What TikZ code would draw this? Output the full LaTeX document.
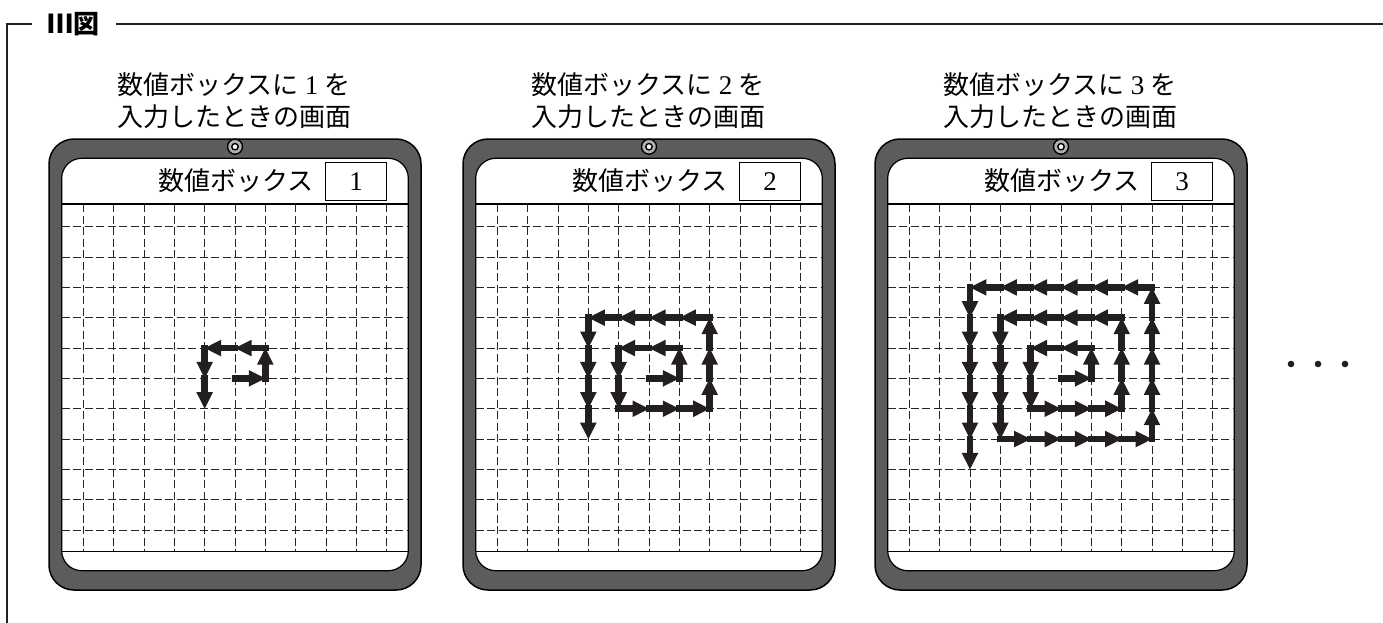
\documentclass[tikz,border=0pt]{standalone}
\usepackage{fontspec}
\newfontfamily\jp{Noto Sans CJK JP}
\newfontfamily\digitfont{Liberation Serif}
\definecolor{tabgray}{RGB}{92,92,94}
\definecolor{ink}{RGB}{35,31,32}
\tikzset{
  frameline/.style={line width=1.5pt, draw=ink},
  tabbody/.style={fill=tabgray, draw=black, line width=1.5pt, rounded corners=25pt},
  screen/.style={fill=white, draw=black, line width=1.2pt, rounded corners=20pt},
  gridline/.style={draw=black!85, line width=0.9pt, dash pattern=on 8pt off 3.5pt},
  solidline/.style={draw=black, line width=1.2pt},
  arrowshaft/.style={draw=ink, line width=6.5pt, line cap=rect},
  arrowhead/.style={fill=ink},
  heading/.style={font=\jp\fontsize{26}{32}\selectfont, inner sep=0pt},
  boxlabel/.style={font=\jp\fontsize{26}{30}\selectfont, inner sep=0pt, anchor=east},
  digitbox/.style={draw=black, line width=1.3pt},
  digittext/.style={font=\digitfont\fontsize{27}{30}\selectfont, inner sep=0pt},
  cameraring/.style={fill=black!30, draw=black, line width=1.4pt},
  cameradot/.style={fill=white, draw=black, line width=1.4pt},
}
\newcommand\drawspiral[2]{%
  \xdef\spx{5}\xdef\spy{5}%
  \foreach \j in {1,...,#2}{%
    \pgfmathtruncatemacro\seglen{ceil(\j/2)}%
    \pgfmathtruncatemacro\segdir{mod(\j-1,4)}%
    \pgfmathtruncatemacro\segdx{(\segdir==0)-(\segdir==2)}%
    \pgfmathtruncatemacro\segdy{(\segdir==3)-(\segdir==1)}%
    \foreach \s in {1,...,\seglen}{%
      \pgfmathtruncatemacro\nx{\spx+\segdx}%
      \pgfmathtruncatemacro\ny{\spy+\segdy}%
      \pgfmathsetmacro\sxx{#1+83.3+30.34*\spx}%
      \pgfmathsetmacro\syy{226.7+30.34*\spy}%
      \pgfmathsetmacro\exx{#1+83.3+30.34*\nx}%
      \pgfmathsetmacro\eyy{226.7+30.34*\ny}%
      \pgfmathsetmacro\bxx{\exx-16.5*\segdx}%
      \pgfmathsetmacro\byy{\eyy-16.5*\segdy}%
      \draw[arrowshaft] (\sxx,\syy) -- ({\exx-14*\segdx},{\eyy-14*\segdy});%
      \fill[arrowhead] (\exx,\eyy) -- ({\bxx+8.3*\segdy},{\byy+8.3*\segdx}) -- ({\bxx-8.3*\segdy},{\byy-8.3*\segdx}) -- cycle;%
      \xdef\spx{\nx}\xdef\spy{\ny}%
    }%
  }%
}
\newcommand\tablet[3]{%
  \draw[tabbody] ({#1+49},139) rectangle ({#1+421},590);
  \draw[screen] ({#1+61.7},158.3) rectangle ({#1+408.3},570.7);
  \foreach \k in {0,...,10}{\draw[gridline] ({#1+83.3+30.34*\k},204) -- ({#1+83.3+30.34*\k},551.7);}
  \foreach \k in {0,...,10}{\draw[gridline] ({#1+61.7},{226.7+30.34*\k}) -- ({#1+408.3},{226.7+30.34*\k});}
  \draw[solidline] ({#1+61.7},204) -- ({#1+408.3},204);
  \draw[solidline] ({#1+61.7},551.7) -- ({#1+408.3},551.7);
  \filldraw[cameraring] ({#1+235},146.7) circle (7.5pt);
  \filldraw[cameradot] ({#1+235},146.7) circle (3.2pt);
  \draw[digitbox] ({#1+325.7},162.3) rectangle ({#1+386.7},200.7);
  \node[digittext] (digit#3) at ({#1+356.2},181.5) {#3};
  \node[boxlabel] (label#3) at ({#1+314},181) {数値ボックス};
  \node[heading] (headA#3) at ({#1+234},85) {数値ボックスに\hspace{6pt}{\digitfont\fontsize{27}{30}\selectfont #3}\hspace{6pt}を};
  \node[heading] (headB#3) at ({#1+234},117) {入力したときの画面};
  \drawspiral{#1}{#2}
}
\begin{document}
\begin{tikzpicture}[x=1pt,y=-1pt]
\useasboundingbox (0,0) rectangle (1383,623);
\node[font=\jp\bfseries\fontsize{26}{26}\selectfont, inner sep=0pt] (title) at (73,24) {Ⅲ図};
\draw[frameline] (7,623) -- (7,24) -- (32,24);
\draw[frameline] (116,24) -- (1383,24);
\tablet{0}{4}{1}
\tablet{414}{8}{2}
\tablet{826}{12}{3}
\fill[ink] (1291,364) circle (3.3pt);
\fill[ink] (1318,364) circle (3.3pt);
\fill[ink] (1345,364) circle (3.3pt);
\end{tikzpicture}
\end{document}
